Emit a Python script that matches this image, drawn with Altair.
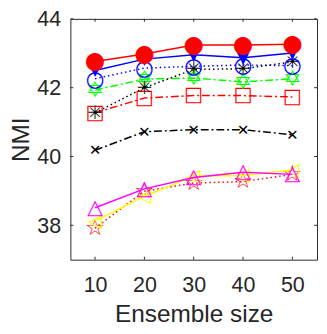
import altair as alt
import pandas as pd

sizes = [10, 20, 30, 40, 50]
x_ticks = [10, 20, 30, 40, 50]
y_ticks = [38, 40, 42, 44]

red_circle = [42.76, 42.98, 43.24, 43.24, 43.26]
blue_tri = [42.50, 42.83, 42.96, 42.87, 43.01]
blue_circle = [42.26, 42.57, 42.62, 42.66, 42.64]
black_ast = [41.27, 42.00, 42.53, 42.55, 42.75]
green_hex = [41.93, 42.25, 42.28, 42.17, 42.26]
red_square = [41.27, 41.70, 41.77, 41.77, 41.73]
black_x = [40.18, 40.72, 40.78, 40.78, 40.63]
magenta_tri = [38.51, 39.06, 39.39, 39.54, 39.48]
yellow_tri = [38.13, 38.84, 39.43, 39.45, 39.61]
red_star = [37.92, 38.99, 39.23, 39.27, 39.48]

DOT = [1.5, 3]
DASHDOT = [8, 3, 2, 3]

# name, values, color, dash, glyph, glyph font size
series = [
    ("ystar", red_star, "#ff0000", DOT, "\u2606", 23),
    ("ytri", yellow_tri, "#ffff00", None, "\u25c1", 19),
    ("mtri", magenta_tri, "#ff00ff", None, "\u25b3", 21),
    ("bx", black_x, "#000000", DASHDOT, "\u2715", 15),
    ("rsq", red_square, "#ff0000", DASHDOT, "\u25a1", 21),
    ("ghex", green_hex, "#00ff00", DASHDOT, "\u2721", 22),
    ("bast", black_ast, "#000000", DOT, "\u2733", 19),
    ("bcirc", blue_circle, "#0000ff", DOT, "\u25cb", 22),
    ("btri", blue_tri, "#0000ff", None, "\u25bc", 17),
    ("rcirc", red_circle, "#ff0000", None, "\u25cf", 24),
]

W, H = 253, 247

xscale = alt.Scale(domain=[5, 55], nice=False, zero=False)
yscale = alt.Scale(domain=[37, 44], nice=False, zero=False)

common = dict(grid=False, ticks=False, domain=False,
              labelFont="Liberation Sans", labelFontSize=22, labelColor="#262626",
              titleFont="Liberation Sans", titleFontSize=25, titleColor="#262626",
              titleFontWeight="normal")

x_axis = alt.Axis(values=x_ticks, title="Ensemble size",
                  labelPadding=16, titlePadding=6, **common)
y_axis = alt.Axis(values=y_ticks, title="NMI", format="d",
                  labelPadding=10, titlePadding=4, **common)
x_enc = alt.X("x:Q", scale=xscale, axis=x_axis)
y_enc = alt.Y("y:Q", scale=yscale, axis=y_axis)

layers = []
for name, vals, color, dash, glyph, fs in series:
    df = pd.DataFrame({"x": sizes, "y": vals, "g": [glyph] * len(sizes)})
    base = alt.Chart(df)
    kw = dict(color=color, strokeWidth=1.5)
    if dash:
        kw["strokeDash"] = dash
    layers.append(base.mark_line(**kw).encode(x=x_enc, y=y_enc))
    layers.append(base.mark_text(color=color, fontSize=fs, font="DejaVu Sans",
                                 baseline="middle", align="center").encode(
        x=x_enc, y=y_enc, text="g:N"))

xt = pd.DataFrame({"x": x_ticks})
yt = pd.DataFrame({"y": y_ticks})
tc = "#262626"
ticks = [
    alt.Chart(xt).mark_rule(color=tc).encode(
        x=x_enc, y=alt.value(H), y2=alt.value(H - 3)),
    alt.Chart(xt).mark_rule(color=tc).encode(
        x=x_enc, y=alt.value(0), y2=alt.value(3)),
    alt.Chart(yt).mark_rule(color=tc).encode(
        y=y_enc, x=alt.value(0), x2=alt.value(3)),
    alt.Chart(yt).mark_rule(color=tc).encode(
        y=y_enc, x=alt.value(W), x2=alt.value(W - 3)),
]

chart = alt.layer(*layers, *ticks).properties(
    width=W, height=H,
    autosize=alt.AutoSizeParams(type="none"),
    padding={"left": 64, "top": 7, "right": 2, "bottom": 70},
).configure_view(stroke="#262626", strokeWidth=1)

chart.save("out.html", embed_options={"renderer": "svg", "actions": False})
